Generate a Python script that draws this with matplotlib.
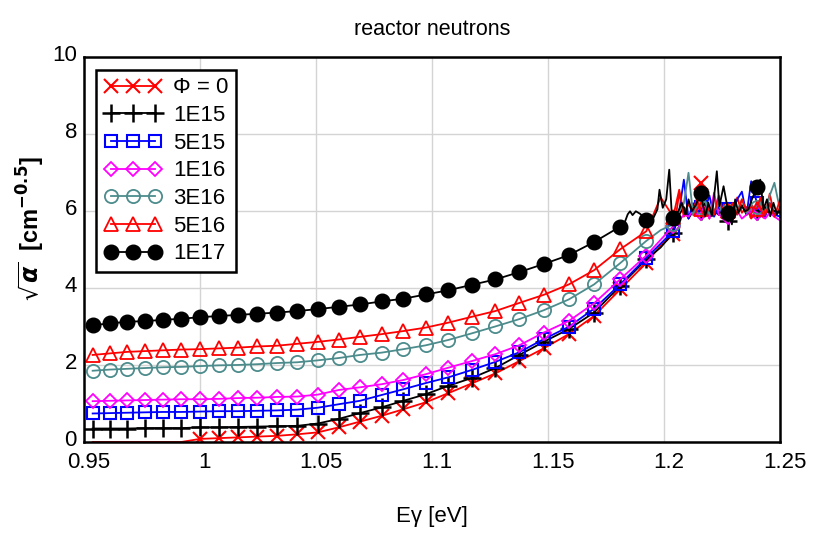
import matplotlib
matplotlib.use("Agg")
import matplotlib.pyplot as plt
import matplotlib.transforms as mtransforms

plt.rcParams['font.family'] = ['Liberation Sans', 'DejaVu Sans']

# photon energies where the markers sit (eV)
grid_e = [0.9538, 0.9612, 0.9688, 0.9764, 0.9841, 0.9920, 1.0000, 1.0081,
          1.0164, 1.0248, 1.0333, 1.0420, 1.0508, 1.0598, 1.0690, 1.0783,
          1.0877, 1.0973, 1.1071, 1.1171, 1.1273, 1.1376, 1.1481, 1.1589,
          1.1698, 1.1810, 1.1923, 1.2039, 1.2157, 1.2277, 1.2400]

# sqrt(alpha) at the marker energies, one list per fluence
phi_0 = [0, 0, 0, 0, 0, 0, 0.08, 0.10, 0.12, 0.14, 0.16, 0.20, 0.25, 0.38,
         0.53, 0.68, 0.85, 1.03, 1.27, 1.52, 1.78, 2.10, 2.43, 2.80, 3.27,
         3.96, 4.65, 5.39, 6.73, 6.00, 6.00]
phi_1e15 = [0.35, 0.35, 0.35, 0.36, 0.36, 0.36, 0.38, 0.38, 0.39, 0.40, 0.41,
            0.42, 0.48, 0.60, 0.75, 0.90, 1.07, 1.24, 1.46, 1.66, 1.92, 2.26,
            2.60, 2.93, 3.36, 4.05, 4.74, 5.43, 6.00, 5.75, 6.00]
phi_5e15 = [0.74, 0.75, 0.76, 0.77, 0.78, 0.78, 0.79, 0.80, 0.80, 0.81, 0.82,
            0.84, 0.89, 0.98, 1.07, 1.22, 1.37, 1.53, 1.68, 1.87, 2.08, 2.33,
            2.67, 2.99, 3.46, 4.09, 4.78, 5.47, 6.10, 6.05, 6.20]
phi_1e16 = [1.06, 1.07, 1.08, 1.09, 1.10, 1.11, 1.11, 1.12, 1.14, 1.15, 1.17,
            1.18, 1.23, 1.35, 1.42, 1.50, 1.61, 1.76, 1.93, 2.10, 2.28, 2.51,
            2.84, 3.14, 3.60, 4.22, 4.84, 5.60, 5.95, 5.85, 5.95]
phi_3e16 = [1.85, 1.88, 1.90, 1.92, 1.94, 1.95, 1.97, 1.99, 2.00, 2.02, 2.05,
            2.07, 2.12, 2.18, 2.26, 2.32, 2.41, 2.51, 2.65, 2.82, 3.00, 3.19,
            3.42, 3.70, 4.09, 4.64, 5.22, 5.65, 6.10, 6.00, 6.10]
phi_5e16 = [2.26, 2.30, 2.34, 2.36, 2.38, 2.40, 2.41, 2.43, 2.45, 2.48, 2.50,
            2.55, 2.60, 2.66, 2.73, 2.80, 2.88, 2.97, 3.10, 3.25, 3.40, 3.61,
            3.82, 4.09, 4.46, 5.00, 5.47, 5.85, 6.05, 6.00, 6.05]
phi_1e17 = [3.03, 3.08, 3.12, 3.14, 3.17, 3.20, 3.24, 3.27, 3.30, 3.33, 3.36,
            3.40, 3.45, 3.51, 3.57, 3.65, 3.72, 3.83, 3.94, 4.08, 4.22, 4.41,
            4.62, 4.85, 5.19, 5.59, 5.76, 5.82, 6.47, 5.95, 6.62]

# noisy points between markers above the band edge
tail_e = [1.1985, 1.2065, 1.2085, 1.2105, 1.2125, 1.2140, 1.2175, 1.2195,
          1.2215, 1.2235, 1.2255, 1.2295, 1.2315, 1.2335, 1.2355, 1.2375,
          1.2415, 1.2435, 1.2455, 1.2475, 1.2500]
tail_phi_0 = [5.10, 6.47, 5.85, 6.20, 5.90, 6.10, 6.30, 5.80, 6.40, 5.90, 6.20,
              5.85, 6.35, 5.95, 6.10, 5.80, 6.20, 5.90, 6.45, 5.85, 6.10]
tail_1e15 = [5.05, 5.90, 6.10, 5.80, 6.00, 5.90, 6.20, 5.85, 6.00, 5.90, 6.10,
             5.80, 6.00, 6.15, 5.90, 6.00, 5.85, 6.10, 5.90, 6.00, 5.95]
tail_5e15 = [5.15, 6.00, 6.81, 5.80, 6.20, 5.90, 6.00, 6.40, 5.85, 6.10, 5.90,
             6.00, 6.30, 6.50, 5.90, 6.77, 6.00, 5.85, 6.20, 5.90, 5.85]
tail_1e16 = [5.25, 5.75, 5.90, 5.85, 6.00, 5.90, 6.10, 5.80, 6.47, 5.90, 5.85,
             5.95, 6.00, 5.80, 5.90, 6.05, 5.90, 5.80, 5.95, 5.85, 5.75]
tail_3e16 = [5.50, 6.00, 6.20, 6.99, 5.90, 6.10, 6.30, 5.90, 6.00, 6.20, 5.85,
             6.10, 6.00, 6.30, 5.95, 6.10, 6.20, 5.90, 6.40, 6.73, 6.00]
tail_5e16 = [6.35, 6.55, 5.90, 6.20, 6.00, 6.30, 5.85, 6.10, 5.90, 6.40, 5.95,
             6.20, 5.90, 6.30, 6.00, 6.10, 6.35, 5.90, 6.20, 5.85, 6.30]
# the 1E17 curve wiggles already before the edge
tail_1e17_e = [1.1832, 1.1843, 1.1853, 1.1864, 1.1878, 1.1895, 1.1909,
               1.1954, 1.1971, 1.1980, 1.1994, 1.2009, 1.2022, 1.2033,
               1.2062, 1.2076, 1.2091, 1.2105, 1.2119, 1.2138, 1.2177,
               1.2191, 1.2206, 1.2227, 1.2238, 1.2256, 1.2292, 1.2306,
               1.2320, 1.2335, 1.2349, 1.2363, 1.2378, 1.2414, 1.2428,
               1.2443, 1.2457, 1.2471, 1.2486, 1.2500]
tail_1e17 = [5.73, 5.91, 5.99, 5.89, 5.99, 5.93, 5.86,
             5.82, 6.04, 6.55, 6.08, 6.30, 7.07, 5.90,
             6.00, 6.21, 5.91, 6.30, 5.99, 6.17, 5.86,
             6.21, 5.86, 7.03, 6.12, 6.64, 5.65, 6.30,
             5.95, 6.12, 5.99, 6.04, 6.30, 6.81, 6.04,
             6.30, 5.86, 6.21, 5.91, 6.04]

labels = ['\u03a6 = 0', '1E15', '5E15', '1E16', '3E16', '5E16', '1E17']


def merge(grid_y, extra_e, extra_y, first_mark=0):
    # put markers and noisy points in one line, remember marker indices
    pts = sorted(zip(grid_e + extra_e, grid_y + extra_y))
    xs = [p[0] for p in pts]
    ys = [p[1] for p in pts]
    marks = [xs.index(e) for e in grid_e[first_mark:]]
    return xs, ys, marks


series = [
    (phi_0, tail_e, tail_phi_0, 6, dict(color='#ff0000', marker='x', ms=10, mew=1.5)),
    (phi_1e15, tail_e, tail_1e15, 0, dict(color='black', marker='+', ms=13, mew=1.8)),
    (phi_5e15, tail_e, tail_5e15, 0, dict(color='#0000ff', marker='s', ms=8.5, mew=1.5, mfc='none')),
    (phi_1e16, tail_e, tail_1e16, 0, dict(color='#ff00ff', marker='D', ms=7, mew=1.3, mfc='none')),
    (phi_3e16, tail_e, tail_3e16, 0, dict(color='#4d8c8c', marker='o', ms=9.5, mew=1.3, mfc='none')),
    (phi_5e16, tail_e, tail_5e16, 0, dict(color='#ff0000', marker='^', ms=9.5, mew=1.3, mfc='none')),
    (phi_1e17, tail_1e17_e, tail_1e17, 0, dict(color='black', marker='o', ms=10.5, mew=1)),
]

fig = plt.figure(figsize=(8.3, 5.41), dpi=100)
ax = fig.add_axes([0.101, 0.183, 0.839, 0.712])

for (gy, te, ty, first, style), lab in zip(series, labels):
    xs, ys, marks = merge(gy, te, ty, first)
    ax.plot(xs, ys, lw=1.3, markevery=marks, label=lab, **style)

ax.set_xlim(0.95, 1.25)
ax.set_ylim(0, 10)
ax.set_xticks([0.95, 1.0, 1.05, 1.1, 1.15, 1.2, 1.25])
ax.set_xticklabels(['0.95', '1', '1.05', '1.1', '1.15', '1.2', '1.25'])
ax.set_yticks([0, 2, 4, 6, 8, 10])
ax.tick_params(length=0, labelsize=16)
ax.tick_params(axis='x', pad=7)
ax.tick_params(axis='y', pad=5)
ax.grid(True, color='#d4d4d4', lw=1)
ax.set_axisbelow(True)
for sp in ax.spines.values():
    sp.set_linewidth(1.8)

# x tick labels sit a few pixels right of their grid lines in the original,
# y tick labels a little above theirs
xshift = mtransforms.ScaledTranslation(5 / 100, 0, fig.dpi_scale_trans)
for lbl in ax.get_xticklabels():
    lbl.set_transform(lbl.get_transform() + xshift)
yshift = mtransforms.ScaledTranslation(0, 4 / 100, fig.dpi_scale_trans)
for lbl in ax.get_yticklabels():
    lbl.set_transform(lbl.get_transform() + yshift)

ax.set_title('reactor neutrons', fontsize=15.5, pad=16)
ax.set_xlabel('E\u03b3 [eV]', fontsize=16, labelpad=24)
ax.set_ylabel(r'$\sqrt{\boldsymbol{\alpha}}$  [cm$^{\mathbf{-0.5}}$]',
              fontsize=17, fontweight='bold')
ax.yaxis.set_label_coords(-0.053, 0.553)

leg = ax.legend(loc='upper left', bbox_to_anchor=(0.018, 0.967), numpoints=3,
                fontsize=16, handlelength=2.6, labelspacing=0.3,
                fancybox=False, framealpha=1, borderpad=0.35,
                handletextpad=0.5, borderaxespad=0)
leg.get_frame().set_edgecolor('black')
leg.get_frame().set_linewidth(1.8)

fig.savefig('out.png', dpi=100)
